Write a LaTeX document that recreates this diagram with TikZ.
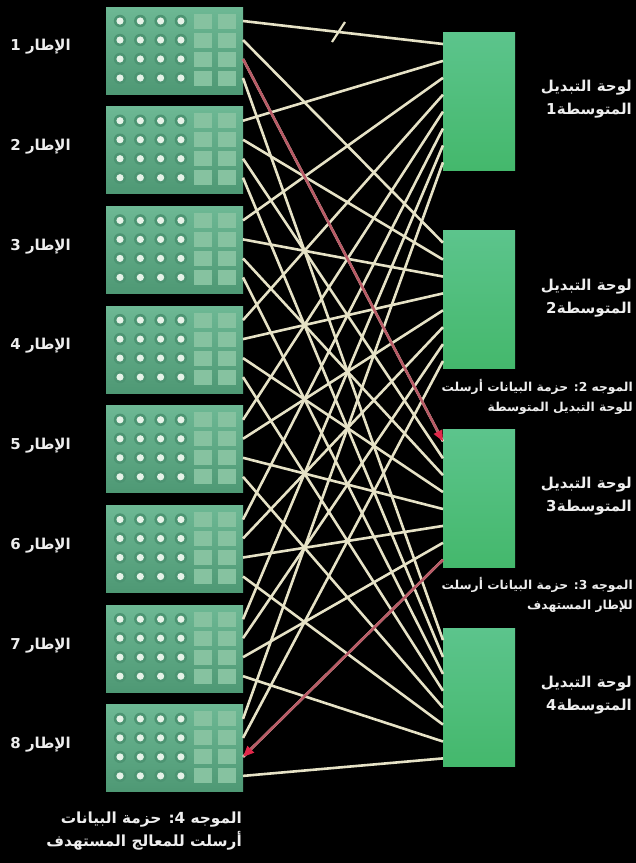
\documentclass[tikz,border=0pt]{standalone}
\usepackage{fontspec}
\usetikzlibrary{arrows.meta,calc}
\TeXXeTstate=1
\newfontfamily\arabicfont[Script=Arabic]{DejaVu Sans Bold}
\definecolor{framegreen}{HTML}{5AA684}
\definecolor{frametop}{HTML}{6DB894}
\definecolor{framebot}{HTML}{4E9874}
\definecolor{cellgreen}{HTML}{4C9472}
\definecolor{dotwhite}{HTML}{E6F2E8}
\definecolor{sqgreen}{HTML}{86C2A0}
\definecolor{boardtop}{HTML}{5CC48C}
\definecolor{boardbot}{HTML}{44B86C}
\definecolor{cream}{HTML}{E6E2C6}
\definecolor{redline}{HTML}{B85A66}
\definecolor{arrowred}{HTML}{E0284A}
\definecolor{labcol}{HTML}{EEEEEE}
\begin{document}
\begin{tikzpicture}[x=1pt,y=-1pt,
  framebox/.style={rectangle, minimum width=137pt, minimum height=87pt, inner sep=0pt, outer sep=0pt, top color=frametop, bottom color=framebot, anchor=north west},
  boardbox/.style={rectangle, minimum width=72pt, minimum height=138pt, inner sep=0pt, outer sep=0pt, top color=boardtop, bottom color=boardbot, anchor=north west},
  lab/.style={text=labcol, font=\arabicfont\fontsize{15}{23}\selectfont, inner sep=0pt},
  steplab/.style={text=labcol, font=\arabicfont\fontsize{12.3}{20}\selectfont, inner sep=0pt},
  biglab/.style={text=labcol, font=\arabicfont\fontsize{15.3}{23}\selectfont, inner sep=0pt},
  meshline/.style={draw=cream, line width=2.6pt},
  redpath/.style={draw=redline, line width=2.6pt, -{Triangle[length=11pt,width=9pt,color=arrowred]}}
]
\fill[black] (0,0) rectangle (636,863);
\useasboundingbox (0,0) rectangle (636,863);

% frames
\foreach \i in {1,...,8} {
  \node[framebox] (f\i) at (106,{7+(\i-1)*99.7}) {};
  \begin{scope}[shift={(f\i.north west)}]
    \foreach \r in {1,...,4} {
      \foreach \c in {1,...,4} {
        \fill[cellgreen] ({14+(\c-1)*20.3},{14+(\r-1)*19}) circle (6.2);
        \fill[dotwhite] ({14+(\c-1)*20.3},{14+(\r-1)*19}) circle (3.6);
      }
      \fill[sqgreen] (88,{14+(\r-1)*19-7.5}) rectangle (106,{14+(\r-1)*19+7.5});
      \fill[sqgreen] (112,{14+(\r-1)*19-7.5}) rectangle (130,{14+(\r-1)*19+7.5});
      \coordinate (fo\i\r) at (137,{14+(\r-1)*19});
    }
  \end{scope}
  \node[lab, anchor=east] (l\i) at (71,{7+(\i-1)*99.7+40}) {\beginR الإطار \i\endR};
}

% boards
\foreach \j in {1,...,4} {
  \node[boardbox] (b\j) at (443,{32+(\j-1)*198.7}) {};
  \foreach \i in {1,...,8} {
    \coordinate (bi\j\i) at (443,{32+(\j-1)*198.7+12+(\i-1)*16.9});
  }
  \node[lab, anchor=east, align=right] (bl\j) at (632,{32+(\j-1)*198.7+67}) {\beginR لوحة التبديل\endR\\\beginR المتوسطة\kern0.5pt\j\endR};
}

% mesh
\foreach \i in {1,...,8} {
  \foreach \j in {1,...,4} {
    \draw[meshline] (fo\i\j) -- (bi\j\i);
  }
}
% slash mark
\coordinate (s1) at (332,42);
\coordinate (s2) at (345,22);
\draw[meshline, line width=2.2pt] (s1) -- (s2);

% red data path
\draw[redpath] (fo13) -- (bi31);
\draw[redpath] (bi38) -- (fo83);

% step labels
\node[steplab, anchor=east, align=right] (m2) at (633,397) {\beginR الموجه 2: حزمة البيانات أرسلت\endR\\\beginR للوحة التبديل المتوسطة\endR};
\node[steplab, anchor=east, align=right] (m3) at (633,595) {\beginR الموجه 3: حزمة البيانات أرسلت\endR\\\beginR للإطار المستهدف\endR};
\node[biglab, anchor=east, align=right] (m4) at (242,831) {\beginR الموجه 4: حزمة البيانات\endR\\\beginR أرسلت للمعالج المستهدف\endR};
\end{tikzpicture}
\end{document}
